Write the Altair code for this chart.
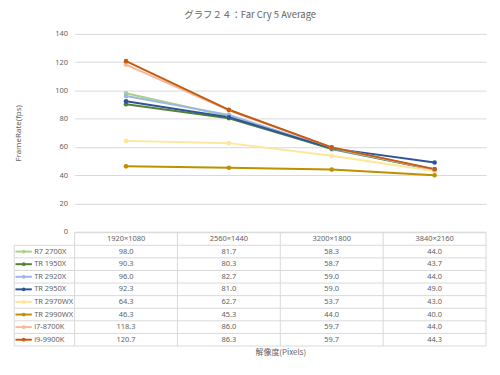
import altair as alt
import pandas as pd

resolutions = ["1920×1080", "2560×1440", "3200×1800", "3840×2160"]
series = ["R7 2700X", "TR 1950X", "TR 2920X", "TR 2950X",
          "TR 2970WX", "TR 2990WX", "i7-8700K", "i9-9900K"]
values = {
    "R7 2700X": [98.0, 81.7, 58.3, 44.0],
    "TR 1950X": [90.3, 80.3, 58.7, 43.7],
    "TR 2920X": [96.0, 82.7, 59.0, 44.0],
    "TR 2950X": [92.3, 81.0, 59.0, 49.0],
    "TR 2970WX": [64.3, 62.7, 53.7, 43.0],
    "TR 2990WX": [46.3, 45.3, 44.0, 40.0],
    "i7-8700K": [118.3, 86.0, 59.7, 44.0],
    "i9-9900K": [120.7, 86.3, 59.7, 44.3],
}
colors = ["#A9D18E", "#548235", "#9DB7E2", "#2F5597",
          "#FFE699", "#BF9000", "#F4B99A", "#C55A11"]
y_ticks = [0, 20, 40, 60, 80, 100, 120, 140]

rows = []
for s in series:
    for r, v in zip(resolutions, values[s]):
        rows.append({"series": s, "res": r, "fps": v, "label": f"{v:.1f}", "row": s})
df = pd.DataFrame(rows)

W = 414
H1 = 199
H2 = 114
GRAY = "#636363"
LINE = "#D9D9D9"
FONT = "Noto Sans"
JFONT = "Noto Sans CJK JP"
LEG_X = -60.7

color_scale = alt.Scale(domain=series, range=colors)
xscale = alt.Scale(type="band", domain=resolutions, paddingInner=0, paddingOuter=0)

# ---- top line chart ----
base = alt.Chart(df).encode(
    x=alt.X("res:N", scale=xscale, axis=None),
    y=alt.Y("fps:Q", scale=alt.Scale(domain=[0, 140]),
            axis=alt.Axis(values=y_ticks, grid=True, gridColor=LINE, domain=False,
                          ticks=False, tickSize=0, labelColor=GRAY, labelFontSize=7.5,
                          labelFont=FONT, labelPadding=7, title="FrameRate(fps)",
                          titleFontSize=8, titleColor=GRAY, titleFontWeight="normal",
                          titleFont=FONT, titlePadding=33)),
    color=alt.Color("series:N", scale=color_scale, legend=None),
)
lines = base.mark_line(strokeWidth=2)
points = base.mark_point(filled=True, size=22, opacity=1)
top = alt.layer(lines, points).properties(width=W, height=H1)

# ---- table ----
row_domain = ["hdr"] + series
yscale = alt.Scale(type="band", domain=row_domain, paddingInner=0, paddingOuter=0)
xaxis = alt.Axis(title="解像度(Pixels)", labels=False, ticks=False, domain=False,
                 titleFont=JFONT, titleFontSize=8, titleColor=GRAY,
                 titleFontWeight="normal", titlePadding=3)

def X(bp=0.5):
    return alt.X("res:N", scale=xscale, axis=xaxis, bandPosition=bp)

def Y(bp=0.5):
    return alt.Y("row:N", scale=yscale, axis=None, bandPosition=bp)

hdr_df = pd.DataFrame({"res": resolutions, "row": ["hdr"] * 4})
ser_df = pd.DataFrame({"row": series})

header_text = alt.Chart(hdr_df).mark_text(
    font=FONT, fontSize=7.5, color=GRAY, baseline="middle", align="center"
).encode(x=X(), y=Y(), text="res:N")

value_text = alt.Chart(df).mark_text(
    font=FONT, fontSize=7.5, color=GRAY, baseline="middle", align="center"
).encode(x=X(), y=Y(), text="label:N")

hline_hdr = alt.Chart(pd.DataFrame({"row": ["hdr"]})).mark_rule(
    color=LINE, strokeWidth=1
).encode(y=Y(0), x=alt.value(0), x2=alt.value(W))
hline_rows = alt.Chart(ser_df).mark_rule(color=LINE, strokeWidth=1).encode(
    y=Y(0), x=alt.value(LEG_X), x2=alt.value(W))
hline_last = alt.Chart(pd.DataFrame({"row": [series[-1]]})).mark_rule(
    color=LINE, strokeWidth=1).encode(y=Y(1), x=alt.value(LEG_X), x2=alt.value(W))

vline_cols = alt.Chart(pd.DataFrame({"res": resolutions})).mark_rule(
    color=LINE, strokeWidth=1).encode(x=X(0), y=alt.value(0), y2=alt.value(H2))
vline_last = alt.Chart(pd.DataFrame({"res": [resolutions[-1]]})).mark_rule(
    color=LINE, strokeWidth=1).encode(x=X(1), y=alt.value(0), y2=alt.value(H2))
vline_leg = alt.Chart(pd.DataFrame({"row": [series[0]]})).mark_rule(
    color=LINE, strokeWidth=1).encode(x=alt.value(LEG_X), y=Y(0), y2=alt.value(H2))

leg_line = alt.Chart(ser_df.assign(series=ser_df["row"])).mark_rule(strokeWidth=2).encode(
    y=Y(), x=alt.value(-59.5), x2=alt.value(-43),
    color=alt.Color("series:N", scale=color_scale, legend=None))
leg_pt = alt.Chart(ser_df.assign(series=ser_df["row"])).mark_point(
    filled=True, size=14, opacity=1).encode(
    y=Y(), x=alt.value(-51.2),
    color=alt.Color("series:N", scale=color_scale, legend=None))
leg_text = alt.Chart(ser_df).mark_text(
    font=FONT, fontSize=7.5, color=GRAY, baseline="middle", align="left"
).encode(y=Y(), x=alt.value(-40.7), text="row:N")

table = alt.layer(
    hline_hdr, hline_rows, hline_last, vline_cols, vline_last, vline_leg,
    header_text, value_text, leg_line, leg_pt, leg_text
).properties(width=W, height=H2)

chart = alt.vconcat(top, table, spacing=1, bounds="flush").properties(
    title=alt.TitleParams("グラフ２４：Far Cry 5 Average", anchor="middle",
                          fontSize=9.5, color=GRAY, fontWeight="normal",
                          font=JFONT, offset=11),
    padding={"left": 5, "top": 0, "right": 5, "bottom": 5},
    background="white",
).configure_view(stroke=None)

chart.save("out.html", embed_options={"renderer": "svg", "actions": False})
